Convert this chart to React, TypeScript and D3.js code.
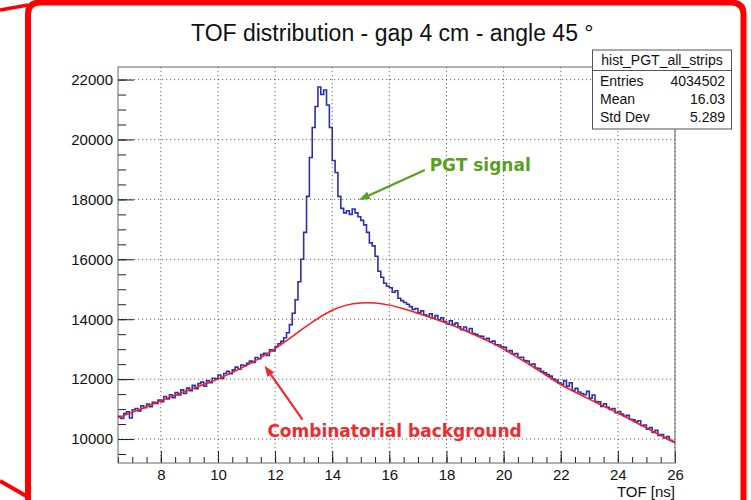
import React, { useEffect, useRef } from 'react'
import * as d3 from 'd3'

const title = 'TOF distribution - gap 4 cm - angle 45 °'
const histName = 'hist_PGT_all_strips'
const statLabels = ['Entries', 'Mean', 'Std Dev']
const statValues = ['4034502', '16.03', '5.289']

// histogram: 0.1 ns bins starting at 6.5 ns
const binStart = 6.5
const binWidth = 0.1
const counts = [
  10760, 10690, 10850, 10910, 10700, 10980, 11020, 10940, 11110, 11050,
  11170, 11080, 11230, 11190, 11300, 11250, 11420, 11340, 11480, 11380,
  11550, 11470, 11640, 11520, 11700, 11610, 11790, 11680, 11850, 11900,
  11760, 11950, 11880, 12030, 12010, 12140, 12020, 12190, 12260, 12180,
  12310, 12400, 12330, 12470, 12450, 12530, 12600, 12560, 12720, 12680,
  12820, 12860, 12790, 12980, 12940, 13090, 13180, 13260, 13380, 13550,
  13820, 14200, 14650, 15250, 16000, 16900, 18100, 19400, 20400, 21100,
  21750, 21500, 21650, 21150, 20400, 19300, 18900, 18100, 17700, 17550,
  17620, 17500, 17680, 17550, 17420, 17300, 17150, 16900, 16550, 16450,
  16100, 15600, 15400, 15200, 15100, 15050, 14900, 14950, 14700, 14620,
  14560, 14500, 14420, 14330, 14360, 14220, 14280, 14150, 14100, 14180,
  14030, 14120, 13980, 14050, 13920, 13840, 13950, 13820, 13870, 13750,
  13650, 13740, 13600, 13690, 13520, 13500, 13440, 13430, 13330, 13360,
  13250, 13270, 13150, 13140, 13080, 13060, 12930, 12950, 12840, 12850,
  12720, 12730, 12620, 12600, 12490, 12500, 12370, 12350, 12260, 12210,
  12150, 12100, 12000, 11970, 11880, 11830, 11950, 11760, 11880, 11620,
  11690, 11570, 11520, 11480, 11590, 11360, 11470, 11250, 11240, 11090,
  11180, 11060, 10990, 11020, 10880, 10920, 10830, 10760, 10790, 10660,
  10640, 10580, 10610, 10450, 10470, 10330, 10380, 10220, 10290, 10120,
  10150, 10040, 10080, 9960, 9920,
]

// background fit curve
const fitX = [6.5, 7, 7.5, 8, 8.5, 9, 9.5, 10, 10.5, 11, 11.5, 12, 12.5, 13, 13.5, 14, 14.5, 15, 15.5, 16,
  16.5, 17, 17.5, 18, 18.5, 19, 19.5, 20, 20.5, 21, 21.5, 22, 22.5, 23, 23.5, 24, 24.5, 25, 25.5, 26]
const fitY = [10710, 10890, 11080, 11280, 11460, 11640, 11820, 12000, 12220, 12460, 12720, 13020, 13350, 13700,
  14030, 14300, 14470, 14540, 14540, 14470, 14350, 14200, 14040, 13870, 13680, 13470, 13250, 13000, 12720,
  12430, 12120, 11820, 11570, 11330, 11100, 10870, 10620, 10370, 10120, 9870]

const xTicks = [8, 10, 12, 14, 16, 18, 20, 22, 24, 26]
const yTicks = [10000, 12000, 14000, 16000, 18000, 20000, 22000]

// annotations in data units: [tailX, tailY, tipX, tipY]
const signalArrow = [17.24, 18980, 14.93, 17980]
const bgArrow = [12.96, 10650, 11.63, 12450]

const sans = 'Liberation Sans, Arial, Helvetica, sans-serif'

export default function App() {
  const ref = useRef<SVGSVGElement | null>(null)

  useEffect(() => {
    if (!ref.current) return
    const svg = d3.select(ref.current)
    svg.selectAll('*').remove()

    const left = 118, right = 675, top = 67, bottom = 463
    const x = d3.scaleLinear().domain([6.5, 26]).range([left, right])
    const y = d3.scaleLinear().domain([9200, 22420]).range([bottom, top])

    svg.append('rect').attr('width', 751).attr('height', 500).attr('fill', '#fff')

    // red outer frame
    const red = '#ff0000'
    svg.append('path').attr('d', 'M28,500 L28,14 Q28,2.5 40,2.5 L731,2.5 Q743.5,2.5 743.5,14 L743.5,500')
      .attr('fill', 'none').attr('stroke', red).attr('stroke-width', 6)
    svg.append('path').attr('d', 'M0,10 L28,5').attr('stroke', red).attr('stroke-width', 3.5)
    svg.append('path').attr('d', 'M0,481 L28,497').attr('stroke', red).attr('stroke-width', 4)

    svg.append('defs').append('clipPath').attr('id', 'plot')
      .append('rect').attr('x', left).attr('y', top).attr('width', right - left).attr('height', bottom - top)

    // grid
    const grid = svg.append('g').attr('stroke', '#444').attr('stroke-width', 0.8).attr('stroke-dasharray', '1.2,2.8')
    grid.selectAll('.gx').data(xTicks).enter().append('line')
      .attr('x1', d => x(d)).attr('x2', d => x(d)).attr('y1', top).attr('y2', bottom)
    grid.selectAll('.gy').data(yTicks).enter().append('line')
      .attr('x1', left).attr('x2', right).attr('y1', d => y(d)).attr('y2', d => y(d))

    // axes (ticks drawn inward like ROOT)
    const xMinor = d3.range(13, 53).map(v => v / 2)
    const yMinor = d3.range(19, 45).map(v => v * 500)
    svg.append('g').attr('transform', `translate(0,${bottom})`)
      .call(d3.axisBottom(x).tickValues(xMinor).tickSize(-6).tickFormat(() => ''))
    svg.append('g').attr('transform', `translate(0,${bottom})`)
      .call(d3.axisBottom(x).tickValues(xTicks).tickSize(-12).tickPadding(6).tickFormat(d3.format('d')))
    svg.append('g').attr('transform', `translate(${left},0)`)
      .call(d3.axisLeft(y).tickValues(yMinor).tickSize(-8).tickFormat(() => ''))
    svg.append('g').attr('transform', `translate(${left},0)`)
      .call(d3.axisLeft(y).tickValues(yTicks).tickSize(-16).tickPadding(5).tickFormat(d3.format('d')))
    svg.selectAll('.domain').remove()
    svg.selectAll('.tick line').attr('stroke', '#222')
    svg.selectAll('.tick text').attr('font-family', sans).attr('font-size', 15).attr('fill', '#111')

    svg.append('rect').attr('x', left).attr('y', top).attr('width', right - left).attr('height', bottom - top)
      .attr('fill', 'none').attr('stroke', '#666').attr('stroke-width', 1)

    // histogram
    const pts: [number, number][] = counts.map((c, i) => [binStart + i * binWidth, c])
    pts.push([binStart + counts.length * binWidth, counts[counts.length - 1]])
    const step = d3.line<[number, number]>().x(d => x(d[0])).y(d => y(d[1])).curve(d3.curveStepAfter)
    svg.append('path').attr('d', step(pts)).attr('clip-path', 'url(#plot)')
      .attr('fill', 'none').attr('stroke', '#2c30b0').attr('stroke-width', 1.6)

    // fit
    const fit = d3.line<number>().x((_, i) => x(fitX[i])).y(d => y(d)).curve(d3.curveCatmullRom)
    svg.append('path').attr('d', fit(fitY)).attr('clip-path', 'url(#plot)')
      .attr('fill', 'none').attr('stroke', '#ff1a1a').attr('stroke-width', 1.5)

    // annotations
    const arrow = (a: number[], color: string) => {
      const x1 = x(a[0]), y1 = y(a[1]), x2 = x(a[2]), y2 = y(a[3])
      const ang = Math.atan2(y2 - y1, x2 - x1)
      const len = 11, hw = 4
      const bx = x2 - len * Math.cos(ang), by = y2 - len * Math.sin(ang)
      svg.append('line').attr('x1', x1).attr('y1', y1).attr('x2', bx).attr('y2', by)
        .attr('stroke', color).attr('stroke-width', 2.2)
      svg.append('path')
        .attr('d', `M${x2},${y2} L${bx + hw * Math.sin(ang)},${by - hw * Math.cos(ang)} L${bx - hw * Math.sin(ang)},${by + hw * Math.cos(ang)} Z`)
        .attr('fill', color)
    }
    const green = '#58a01f'
    const annRed = '#f22a2a'
    arrow(signalArrow, green)
    arrow(bgArrow, annRed)
    svg.append('text').attr('x', x(17.41)).attr('y', y(18950)).text('PGT signal')
      .attr('font-family', 'DejaVu Sans, sans-serif').attr('font-weight', 'bold').attr('font-size', 17).attr('fill', green)
    svg.append('text').attr('x', x(11.73)).attr('y', y(10083)).text('Combinatorial background')
      .attr('font-family', 'DejaVu Sans, sans-serif').attr('font-weight', 'bold').attr('font-size', 17).attr('fill', annRed)

    // axis title
    svg.append('text').attr('x', right).attr('y', 497).attr('text-anchor', 'end').text('TOF [ns]')
      .attr('font-family', sans).attr('font-size', 15).attr('fill', '#111')

    // title
    svg.append('text').attr('x', 191).attr('y', 40.5).text(title)
      .attr('font-family', sans).attr('font-size', 23).attr('fill', '#111')

    // stats box
    const sb = { x: 592.5, y: 50, w: 139, h: 79 }
    const stat = svg.append('g').attr('font-family', sans).attr('font-size', 14).attr('fill', '#111')
    stat.append('rect').attr('x', sb.x).attr('y', sb.y).attr('width', sb.w).attr('height', sb.h)
      .attr('fill', '#fff').attr('stroke', '#555').attr('stroke-width', 1)
    stat.append('line').attr('x1', sb.x).attr('x2', sb.x + sb.w).attr('y1', 70.5).attr('y2', 70.5)
      .attr('stroke', '#555').attr('stroke-width', 1)
    stat.append('text').attr('x', sb.x + sb.w / 2).attr('y', 65).attr('text-anchor', 'middle').text(histName)
    statLabels.forEach((l, i) => {
      stat.append('text').attr('x', 600).attr('y', 85.5 + i * 18.3).text(l)
      stat.append('text').attr('x', 725).attr('y', 85.5 + i * 18.3).attr('text-anchor', 'end').text(statValues[i])
    })
  }, [])

  return <svg ref={ref} width={751} height={500} style={{ position: 'absolute', left: 0, top: 0 }} />
}
